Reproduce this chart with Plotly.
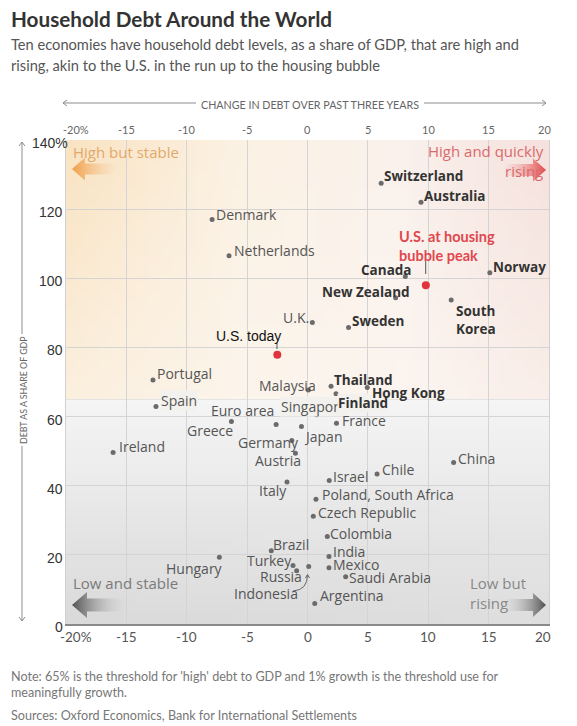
import zlib, struct, base64
import plotly.graph_objects as go

# ---------------- data ----------------
countries = ["Denmark", "Netherlands", "Switzerland", "Australia", "Canada", "Norway",
             "New Zealand", "South Korea", "U.K.", "Sweden", "Portugal", "Spain",
             "Euro area", "Greece", "Germany", "Austria", "Japan", "Singapore", "Malaysia",
             "Thailand", "Hong Kong", "Finland", "France", "Ireland", "China", "Chile",
             "Israel", "Italy", "Poland, South Africa", "Czech Republic", "Colombia",
             "India", "Mexico", "Saudi Arabia", "Argentina", "Indonesia", "Turkey",
             "Russia", "Brazil", "Hungary"]
debt_change = [-7.9, -6.5, 6.1, 9.4, 8.1, 15.1,
               7.3, 11.9, 0.4, 3.4, -12.8, -12.55,
               -2.6, -6.3, -1.3, -1.0, -0.5, 0.76, 0.07,
               1.95, 4.95, 2.36, 2.4, -16.1, 12.1, 5.76,
               1.8, -1.7, 0.7, 0.48, 1.64,
               1.78, 1.78, 3.16, 0.6, 0.1, -1.2,
               -0.9, -3.0, -7.3]
debt_gdp = [117, 106.5, 127.5, 122, 100.5, 101.6,
            94.4, 93.7, 87.2, 85.8, 70.6, 62.9,
            57.7, 58.6, 53.1, 49.4, 57.1, 60.5, 67.7,
            68.8, 68.4, 66.6, 58.1, 49.6, 46.7, 43.4,
            41.5, 41.1, 36.1, 31.2, 25.3,
            19.5, 16.3, 13.7, 5.9, 16.6, 16.9,
            15.4, 21.2, 19.3]
high_and_rising = ["Switzerland", "Australia", "Canada", "Norway", "New Zealand",
                   "South Korea", "Sweden", "Thailand", "Hong Kong", "Finland"]

us_labels = ["U.S. today", "U.S. at housing<br>bubble peak"]
us_change = [-2.5, 9.8]
us_gdp = [77.9, 98]

x_ticks = [-20, -15, -10, -5, 0, 5, 10, 15, 20]
x_ticktext = ["-20%", "-15", "-10", "-5", "0", "5", "10", "15", "20"]
y_ticks = [0, 20, 40, 60, 80, 100, 120, 140]
y_ticktext = ["0", "20", "40", "60", "80", "100", "120", "140%"]
debt_threshold = 65
growth_threshold = 1

# label placement: (anchor, dx px, dy px up)
label_pos = {
    "Denmark": ("left", 3, 5), "Netherlands": ("left", 4, 5), "Switzerland": ("left", 2, 7),
    "Australia": ("left", 2, 6), "Canada": ("right", 7, 7), "Norway": ("left", 2, 6),
    "New Zealand": ("right", 15, 6), "South Korea": ("left", 4, -20), "U.K.": ("right", -2, 5),
    "Sweden": ("left", 2, 6), "Portugal": ("left", 3, 6), "Spain": ("left", 4, 6),
    "Euro area": ("right", -1, 14), "Greece": ("right", 3, -9), "Germany": ("right", 8, -2),
    "Austria": ("right", 7, -7), "Japan": ("left", 2, -10), "Singapore": ("left", -37, 8),
    "Malaysia": ("right", 9, 4), "Thailand": ("left", 2, 6), "Hong Kong": ("left", 4, -5),
    "Finland": ("left", 1, -9), "France": ("left", 5, 3), "Ireland": ("left", 5, 6),
    "China": ("left", 3, 4), "Chile": ("left", 4, 4), "Israel": ("left", 3, 4),
    "Italy": ("right", 1, -9), "Poland, South Africa": ("left", 5, 5),
    "Czech Republic": ("left", 4, 4), "Colombia": ("left", 2, 3), "India": ("left", 3, 5),
    "Mexico": ("left", 3, 3), "Saudi Arabia": ("left", 2, -1), "Argentina": ("left", 4, 8),
    "Indonesia": ("right", -10, -27), "Turkey": ("right", 0, 5), "Russia": ("right", 6, -6),
    "Brazil": ("left", 1, 6), "Hungary": ("right", 5, -11),
}
label_bg = ["Spain", "Singapore", "Finland"]
display_names = {"South Korea": "South<br>Korea"}

# ---------------- geometry helpers ----------------
W, H = 577, 726
ML, MR, MT, MB = 66, 28, 140, 102
PW, PH = W - ML - MR, H - MT - MB
XMIN, XMAX, YMIN, YMAX = -20, 20, 0, 140


def px_x(px):
    return (px - ML) / PW


def px_y(py):
    return (H - MB - py) / PH


def dx_(px):
    return XMIN + (px - ML) / PW * (XMAX - XMIN)


def dy_(py):
    return YMIN + (H - MB - py) / PH * (YMAX - YMIN)


def png_uri(w, h, fn):
    rows = []
    for j in range(h):
        row = bytearray([0])
        for i in range(w):
            row.extend(fn(i / (w - 1), j / (h - 1)))
        rows.append(bytes(row))
    raw = b"".join(rows)

    def chunk(tag, data):
        return struct.pack(">I", len(data)) + tag + data + struct.pack(">I", zlib.crc32(tag + data) & 0xffffffff)
    png = (b"\x89PNG\r\n\x1a\n" + chunk(b"IHDR", struct.pack(">IIBBBBB", w, h, 8, 2, 0, 0, 0))
           + chunk(b"IDAT", zlib.compress(raw)) + chunk(b"IEND", b""))
    return "data:image/png;base64," + base64.b64encode(png).decode()


def lerp(a, b, t):
    return tuple(int(round(a[k] + (b[k] - a[k]) * t)) for k in range(3))


def stops(st, u):
    for k in range(len(st) - 1):
        if st[k][0] <= u <= st[k + 1][0]:
            return lerp(st[k][1], st[k + 1][1], (u - st[k][0]) / (st[k + 1][0] - st[k][0]))
    return st[-1][1]


top_stops = [(0, (249, 227, 194)), (0.35, (251, 241, 227)), (0.7, (250, 241, 236)), (1, (245, 225, 221))]


def top_fn(u, v):
    c = stops(top_stops, u)
    return lerp(c, (252, 247, 241), 0.6 * v)


def bot_fn(u, v):
    c = lerp((245, 245, 245), (218, 218, 218), v)
    return lerp(c, (236, 236, 236), 0.25 * u * v)


fig = go.Figure()


def arrow(tip_px, tip_py, head_back, head_half, shaft_end, shaft_half, c_tip, c_tail):
    d = 1 if head_back > tip_px else -1
    pts = [(tip_px, tip_py), (head_back, tip_py - head_half), (head_back, tip_py - shaft_half),
           (shaft_end, tip_py - shaft_half), (shaft_end, tip_py + shaft_half),
           (head_back, tip_py + shaft_half), (head_back, tip_py + head_half), (tip_px, tip_py)]
    cs = [[0, c_tip], [1, c_tail]] if d == 1 else [[0, c_tail], [1, c_tip]]
    fig.add_trace(go.Scatter(x=[dx_(p[0]) for p in pts], y=[dy_(p[1]) for p in pts],
                             mode="none", fill="toself",
                             fillgradient=dict(type="horizontal", colorscale=cs),
                             hoverinfo="skip", showlegend=False))


arrow(72, 169, 85, 11.5, 118, 5.5, "rgba(240,158,70,1)", "rgba(246,200,150,0)")
arrow(546, 170, 533, 11.5, 503, 6, "rgba(228,70,72,1)", "rgba(240,170,170,0)")
arrow(72, 605, 87, 13, 122, 6.5, "rgba(80,80,80,1)", "rgba(200,200,200,0.1)")
arrow(546, 605, 533, 12, 506, 6, "rgba(80,80,80,1)", "rgba(200,200,200,0.1)")

# country dots
fig.add_trace(go.Scatter(x=debt_change, y=debt_gdp, mode="markers",
                         marker=dict(size=5, color="#6b6b6b"), hoverinfo="text",
                         text=countries, showlegend=False))
fig.add_trace(go.Scatter(x=us_change, y=us_gdp, mode="markers",
                         marker=dict(size=8, color="#e2323c"), hoverinfo="skip", showlegend=False))

ann = []
order = sorted(range(len(countries)), key=lambda i: 0 if countries[i] in label_bg else 1)
for i in order:
    name, x, y = countries[i], debt_change[i], debt_gdp[i]
    anchor, dxp, dyp = label_pos[name]
    bold = name in high_and_rising
    txt = display_names.get(name, name)
    ann.append(dict(x=x, y=y, xref="x", yref="y", text=("<b>%s</b>" % txt) if bold else txt,
                    showarrow=False, xanchor=anchor, yanchor="middle", xshift=dxp, yshift=dyp,
                    align="left", borderpad=0,
                    bgcolor="#f3f1ee" if name in label_bg else None,
                    font=dict(family="Open Sans", size=13.5 if bold else 14,
                              color="#333" if bold else "#555")))

# US labels
ann.append(dict(x=us_change[0], y=us_gdp[0], text=us_labels[0], showarrow=False, xanchor="center",
                yanchor="middle", xshift=-29, yshift=19,
                font=dict(family="Liberation Sans", size=14, color="#111")))
ann.append(dict(x=us_change[1], y=us_gdp[1], text="<b>%s</b>" % us_labels[1], showarrow=False,
                xanchor="left", yanchor="middle", xshift=-29, yshift=39, align="left",
                font=dict(family="Lato", size=14.5, color="#e0474f")))

# tick labels (end labels nudged inwards as in the original)
x_edge_shift = {-20: 10, 20: -5}
for v, t in zip(x_ticks, x_ticktext):
    ann.append(dict(x=v, y=px_y(637), xref="x", yref="paper", text=t, showarrow=False,
                    xanchor="center", yanchor="middle", xshift=x_edge_shift.get(v, 0) - (1 if v == 20 else 0),
                    font=dict(family="Lato", size=13.5, color="#555")))
    ann.append(dict(x=v, y=px_y(129), xref="x", yref="paper", text=t, showarrow=False,
                    xanchor="center", yanchor="middle", xshift=x_edge_shift.get(v, 0),
                    font=dict(family="Lato", size=11, color="#666")))
for v, t in zip(y_ticks, y_ticktext):
    ann.append(dict(x=px_x(65 if v != 140 else 70), y=v, xref="paper", yref="y", text=t, showarrow=False,
                    xanchor="right", yanchor="middle", yshift=-3,
                    font=dict(family="Liberation Sans", size=14, color="#333")))


def ptext(px, py, text, size, color, anchor="left", family="Open Sans", align="left", angle=0):
    ann.append(dict(x=px_x(px), y=px_y(py), xref="paper", yref="paper", text=text,
                    showarrow=False, xanchor=anchor, yanchor="middle", align=align,
                    textangle=angle, borderpad=0, font=dict(family=family, size=size, color=color)))


ptext(10, 19, "<b>Household Debt Around the World</b>", 20.7, "#333", family="Lato")
ptext(10, 44, "Ten economies have household debt levels, as a share of GDP, that are high and", 14.65, "#555", family="Lato")
ptext(10, 65, "rising, akin to the U.S. in the run up to the housing bubble", 14.65, "#555", family="Lato")
ptext(310, 104, "CHANGE IN DEBT OVER PAST THREE YEARS", 10.7, "#666", anchor="center", family="Lato")
ptext(23, 390, "DEBT AS A SHARE OF GDP", 8.8, "#666", anchor="center", angle=-90, family="Lato")
ptext(72, 152, "High but stable", 15, "#e2a96a")
ptext(545, 161, "High and quickly<br>rising", 15, "#da6a6c", anchor="right", align="right")
ptext(72, 583, "Low and stable", 15, "#7a7a7a")
ptext(469, 593, "Low but<br>rising", 15, "#888")
ptext(10, 684, "Note: 65% is the threshold for 'high' debt to GDP and 1% growth is the threshold use for<br>meaningfully growth.", 12.6, "#777", family="Lato")
ptext(10, 715, "Sources: Oxford Economics, Bank for International Settlements", 12.6, "#777", family="Lato")

shapes = []
shapes.append(dict(type="line", xref="x", yref="y", x0=XMIN, x1=XMAX, y0=debt_threshold, y1=debt_threshold,
                   line=dict(color="#a2a2a2", width=1.8), layer="below"))
shapes.append(dict(type="line", xref="x", yref="y", x0=growth_threshold, x1=growth_threshold, y0=YMIN, y1=YMAX,
                   line=dict(color="#a2a2a2", width=1.5), layer="below"))


def pline(pts, color="#8c8c8c", width=1):
    path = "M " + " L ".join("%.5f,%.5f" % (px_x(a), px_y(b)) for a, b in pts)
    shapes.append(dict(type="path", xref="paper", yref="paper", path=path,
                       line=dict(color=color, width=width)))


pline([(63, 103), (196, 103)])
pline([(424, 103), (546, 103)])
pline([(67, 100), (63, 103), (67, 106)])
pline([(542, 100), (546, 103), (542, 106)])
pline([(22, 142), (22, 334)])
pline([(22, 446), (22, 621)])
pline([(19, 146), (22, 142), (25, 146)])
pline([(19, 617), (22, 621), (25, 617)])
pline([(425.7, 261), (425.7, 274)], "#555", 1)
pline([(277, 343), (277, 349)], "#555", 1)
shapes.append(dict(type="path", xref="paper", yref="paper",
                   path="M %.5f,%.5f Q %.5f,%.5f %.5f,%.5f" % (px_x(293), px_y(591), px_x(307.5), px_y(590),
                                                                px_x(307.5), px_y(575)),
                   line=dict(color="#666", width=1)))
pline([(305.5, 578), (307.5, 574.5), (309.5, 578)], "#666", 1)

images = [
    dict(source=png_uri(80, 30, top_fn), xref="x", yref="y", x=XMIN, y=YMAX, sizex=XMAX - XMIN,
         sizey=YMAX - debt_threshold, sizing="stretch", xanchor="left", yanchor="top", layer="below"),
    dict(source=png_uri(80, 30, bot_fn), xref="x", yref="y", x=XMIN, y=debt_threshold, sizex=XMAX - XMIN,
         sizey=debt_threshold - YMIN, sizing="stretch", xanchor="left", yanchor="top", layer="below"),
]

fig.update_layout(
    width=W, height=H, margin=dict(l=ML, r=MR, t=MT, b=MB),
    paper_bgcolor="white", plot_bgcolor="white",
    annotations=ann, shapes=shapes, images=images, showlegend=False,
    xaxis=dict(range=[XMIN, XMAX], tickvals=x_ticks, showticklabels=False, showgrid=True,
               gridcolor="#d4d4d4", gridwidth=1, zeroline=False, showline=True, linecolor="#8a8a8a",
               linewidth=2, ticks="", fixedrange=True),
    yaxis=dict(range=[YMIN, YMAX], tickvals=y_ticks, showticklabels=False, showgrid=True,
               gridcolor="#d4d4d4", gridwidth=1, zeroline=False, showline=True, mirror=True,
               linecolor="#d0d0d0", linewidth=1, ticks="", fixedrange=True),
)

fig.write_html("out.html", config={"displayModeBar": False},
               post_script="document.body.style.margin='0';document.body.style.overflow='hidden';")
